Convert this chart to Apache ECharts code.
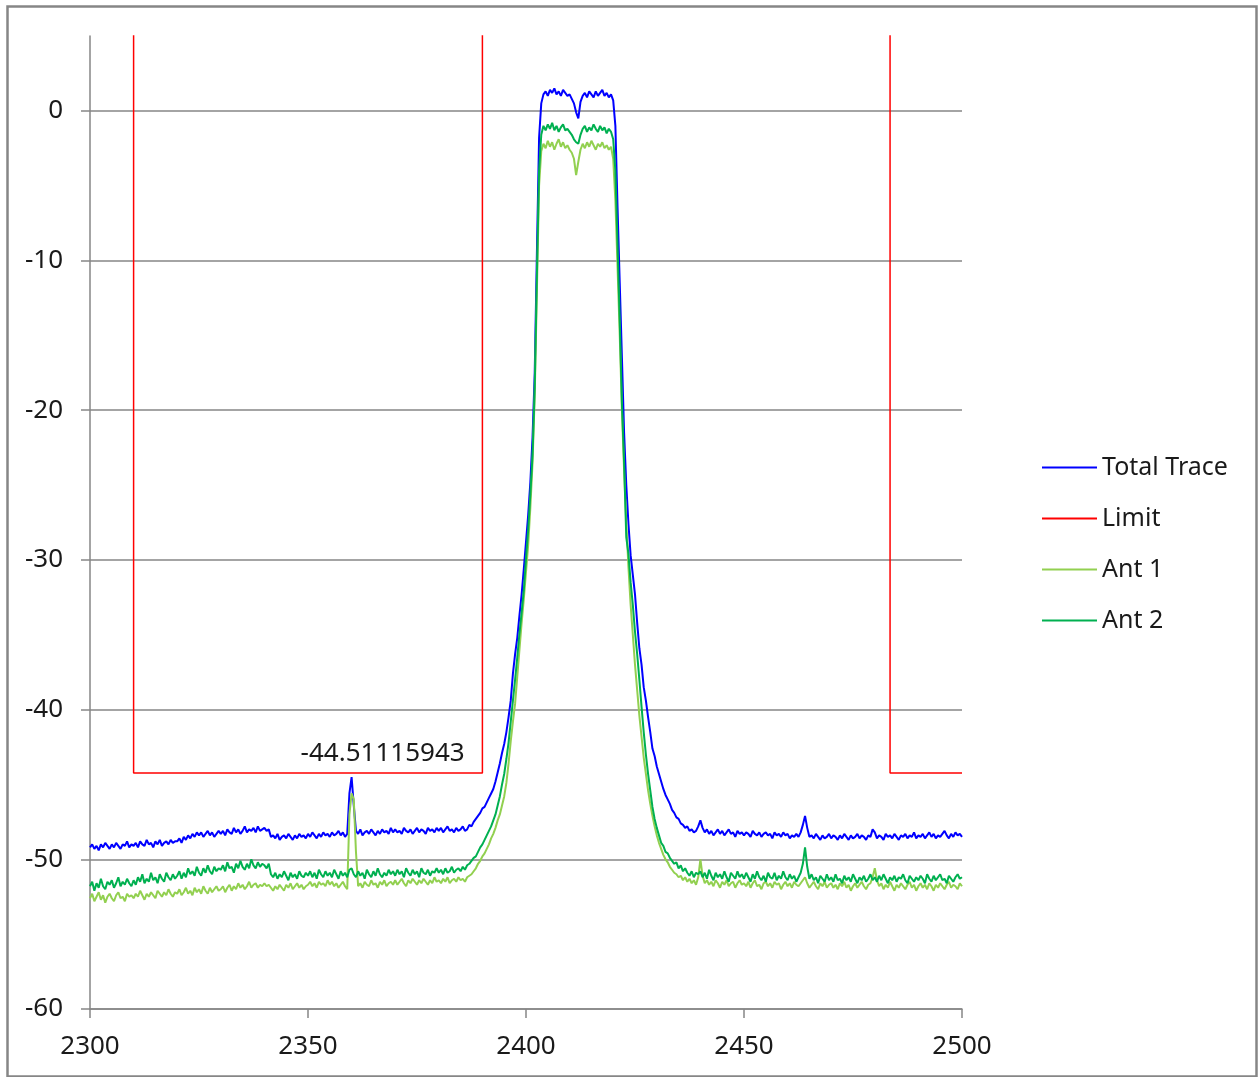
<!DOCTYPE html>
<html><head><meta charset="utf-8">
<script src="https://cdn.jsdelivr.net/npm/echarts@6/dist/echarts.min.js"></script>
<style>html,body{margin:0;padding:0;background:#fff}#c{width:1258px;height:1077px}</style>
</head><body><div id="c"></div>
<script>
// Sweep grid: first frequency and spacing of samples (MHz)
const START_FREQ = 2300;
const STEP = 0.5;

// Total Trace (dBm), one value every 0.5 MHz from 2300 to 2500
const totalTrace = [
-49.2,-49.0,-49.3,-49.1,-49.4,-49.0,-49.2,-48.9,-49.1,-49.3,-49.0,-49.2,-48.9,-49.1,-49.3,-49.0,-49.1,-48.8,-49.2,-49.0,
-49.1,-48.9,-49.2,-48.8,-49.0,-49.1,-48.7,-49.0,-48.9,-49.2,-48.8,-49.0,-48.7,-49.1,-48.9,-48.8,-49.0,-48.7,-48.9,-48.8,
-48.8,-48.6,-48.9,-48.5,-48.7,-48.4,-48.6,-48.3,-48.5,-48.2,-48.4,-48.2,-48.5,-48.3,-48.1,-48.4,-48.2,-48.5,-48.3,-48.1,
-48.3,-48.1,-48.4,-48.0,-48.2,-48.3,-47.9,-48.2,-48.0,-48.3,-48.1,-47.8,-48.2,-48.0,-48.1,-47.9,-48.2,-47.8,-48.1,-48.0,
-47.9,-48.1,-48.0,-48.5,-48.4,-48.6,-48.3,-48.7,-48.5,-48.4,-48.6,-48.3,-48.5,-48.7,-48.4,-48.6,-48.3,-48.5,-48.4,-48.6,
-48.3,-48.5,-48.2,-48.4,-48.6,-48.3,-48.5,-48.2,-48.4,-48.3,-48.5,-48.2,-48.4,-48.3,-48.1,-48.4,-48.2,-48.5,-48.3,-45.6,
-44.51115943,-46.4,-48.1,-48.3,-48.0,-48.4,-48.2,-48.1,-48.3,-48.0,-48.2,-48.4,-48.1,-48.3,-48.0,-48.2,-48.1,-48.3,-47.9,-48.2,
-48.0,-48.2,-48.1,-48.3,-47.9,-48.1,-48.2,-48.0,-48.3,-48.1,-47.9,-48.2,-48.0,-48.1,-48.3,-47.9,-48.1,-48.0,-48.2,-47.9,
-48.1,-47.9,-48.2,-48.0,-47.8,-48.1,-48.0,-48.2,-47.9,-48.1,-48.0,-47.8,-48.1,-48.0,-47.7,-47.8,-47.5,-47.3,-47.1,-46.9,
-46.6,-46.5,-46.2,-45.9,-45.6,-45.3,-44.8,-44.2,-43.6,-42.9,-42.3,-41.5,-40.5,-39.4,-37.6,-36.3,-35.2,-33.7,-32.3,-30.6,
-28.8,-27.0,-24.8,-21.8,-17.5,-9.5,-1.8,0.5,1.1,1.3,1.0,1.4,1.2,1.5,1.1,1.3,1.0,1.4,1.2,1.0,
1.1,0.8,0.5,-0.1,-0.5,0.6,1.0,1.2,0.9,1.3,1.1,0.9,1.3,1.0,1.2,1.4,1.0,1.2,0.9,1.1,
0.7,-1.0,-6.5,-11.5,-16.5,-21.5,-25.0,-27.6,-29.7,-31.0,-32.3,-34.2,-35.9,-37.0,-38.5,-39.4,-40.5,-41.5,-42.6,-43.1,
-43.8,-44.3,-44.8,-45.3,-45.7,-46.0,-46.3,-46.7,-46.9,-47.2,-47.3,-47.6,-47.7,-47.9,-47.8,-48.1,-48.0,-48.2,-48.1,-47.8,
-47.4,-47.9,-48.2,-48.0,-48.3,-48.1,-48.4,-48.2,-48.0,-48.3,-48.1,-48.4,-48.2,-48.0,-48.3,-48.2,-48.5,-48.1,-48.3,-48.2,
-48.4,-48.2,-48.3,-48.5,-48.1,-48.3,-48.4,-48.2,-48.5,-48.3,-48.2,-48.4,-48.3,-48.6,-48.2,-48.4,-48.3,-48.5,-48.2,-48.4,
-48.3,-48.6,-48.4,-48.5,-48.3,-48.5,-48.2,-47.7,-47.1,-47.9,-48.5,-48.4,-48.6,-48.3,-48.5,-48.7,-48.4,-48.6,-48.5,-48.3,
-48.6,-48.4,-48.5,-48.7,-48.4,-48.6,-48.3,-48.5,-48.7,-48.4,-48.6,-48.5,-48.3,-48.6,-48.4,-48.5,-48.7,-48.4,-48.5,-48.0,
-48.2,-48.6,-48.4,-48.5,-48.7,-48.3,-48.5,-48.4,-48.6,-48.3,-48.5,-48.7,-48.4,-48.5,-48.3,-48.6,-48.4,-48.5,-48.2,-48.6,
-48.4,-48.5,-48.3,-48.6,-48.4,-48.2,-48.5,-48.3,-48.6,-48.4,-48.5,-48.3,-48.1,-48.4,-48.6,-48.3,-48.5,-48.2,-48.4,-48.3,
-48.5
];

// Ant 1 (dBm)
const ant1 = [
-52.6,-52.3,-52.8,-52.5,-52.2,-52.7,-52.4,-52.9,-52.5,-52.3,-52.6,-52.8,-52.4,-52.2,-52.6,-52.5,-52.8,-52.3,-52.5,-52.4,
-52.6,-52.3,-52.5,-52.1,-52.4,-52.7,-52.3,-52.5,-52.2,-52.4,-52.6,-52.1,-52.3,-52.5,-52.2,-52.4,-52.0,-52.3,-52.5,-52.2,
-52.3,-52.0,-52.4,-52.2,-51.9,-52.3,-52.1,-52.4,-51.9,-52.2,-52.0,-52.3,-51.8,-52.1,-52.3,-51.9,-52.2,-52.0,-51.8,-52.1,
-52.0,-51.8,-52.2,-51.9,-51.7,-52.1,-51.8,-52.0,-51.6,-51.9,-51.7,-52.0,-51.8,-51.5,-51.9,-51.7,-51.6,-51.9,-51.7,-51.8,
-51.6,-51.8,-51.7,-51.9,-52.1,-51.8,-52.0,-51.7,-51.9,-52.1,-51.7,-51.9,-51.6,-52.0,-51.8,-51.6,-51.9,-51.7,-52.0,-51.8,
-51.7,-51.5,-51.8,-51.6,-51.9,-51.5,-51.7,-51.6,-51.8,-51.4,-51.7,-51.5,-51.8,-51.6,-51.9,-51.7,-51.5,-51.8,-52.0,-47.0,
-45.6,-46.0,-49.5,-51.8,-51.6,-51.9,-51.5,-51.7,-51.8,-51.4,-51.7,-51.6,-51.9,-51.5,-51.7,-51.4,-51.8,-51.6,-51.5,-51.7,
-51.4,-51.7,-51.5,-51.3,-51.6,-51.8,-51.4,-51.6,-51.3,-51.5,-51.7,-51.4,-51.6,-51.3,-51.5,-51.7,-51.4,-51.6,-51.2,-51.5,
-51.4,-51.6,-51.3,-51.5,-51.2,-51.6,-51.4,-51.3,-51.5,-51.2,-51.4,-51.3,-51.5,-51.2,-51.1,-51.0,-50.8,-50.6,-50.3,-50.1,
-49.8,-49.6,-49.3,-49.0,-48.6,-48.3,-47.9,-47.4,-47.0,-46.4,-45.8,-44.9,-43.6,-42.1,-40.8,-39.6,-37.8,-36.0,-34.2,-32.6,
-30.8,-29.0,-26.5,-23.5,-19.0,-12.0,-5.0,-2.7,-2.2,-2.5,-2.0,-2.4,-2.1,-2.6,-2.2,-1.9,-2.4,-2.1,-2.5,-2.3,
-2.6,-2.8,-3.2,-4.3,-3.4,-2.6,-2.2,-2.5,-2.1,-2.4,-2.0,-2.3,-2.6,-2.2,-2.4,-2.1,-2.5,-2.3,-2.6,-2.4,
-3.2,-6.0,-10.5,-15.0,-20.0,-24.0,-27.5,-30.5,-33.0,-35.0,-37.0,-38.7,-40.4,-41.8,-43.2,-44.3,-45.4,-46.3,-47.1,-47.8,
-48.4,-48.9,-49.3,-49.7,-50.0,-50.2,-50.5,-50.7,-50.9,-51.0,-51.2,-51.1,-51.4,-51.2,-51.5,-51.3,-51.6,-51.4,-51.7,-51.2,
-50.0,-51.1,-51.6,-51.4,-51.7,-51.5,-51.8,-51.4,-51.6,-51.9,-51.5,-51.7,-51.4,-51.8,-51.6,-51.5,-51.9,-51.6,-51.4,-51.7,
-51.6,-51.8,-51.5,-51.9,-51.6,-51.4,-51.8,-51.7,-52.0,-51.6,-51.5,-51.8,-51.6,-51.9,-51.5,-51.7,-51.6,-52.0,-51.7,-51.5,
-51.8,-51.6,-51.9,-51.5,-51.7,-51.8,-51.6,-51.4,-51.2,-51.6,-51.9,-51.7,-51.5,-51.8,-52.0,-51.6,-51.8,-51.5,-51.9,-51.7,
-51.6,-51.9,-51.7,-52.0,-51.6,-51.8,-51.5,-51.9,-51.7,-52.1,-51.8,-51.6,-51.9,-51.7,-51.5,-51.8,-52.0,-51.7,-51.6,-51.2,
-50.6,-51.4,-51.8,-51.6,-52.0,-51.7,-51.9,-51.5,-51.8,-52.1,-51.7,-51.9,-51.6,-51.8,-52.0,-51.7,-51.5,-51.9,-51.7,-52.1,
-51.8,-51.6,-51.9,-51.7,-52.0,-51.6,-51.8,-52.1,-51.7,-51.9,-51.6,-51.8,-52.0,-51.7,-51.5,-51.9,-51.7,-51.8,-52.0,-51.6,
-51.8
];

// Ant 2 (dBm)
const ant2 = [
-51.8,-51.5,-52.1,-51.6,-51.9,-51.3,-51.8,-52.0,-51.5,-51.7,-51.4,-51.9,-51.6,-51.2,-51.8,-51.5,-51.7,-51.3,-51.6,-51.8,
-51.4,-51.7,-51.2,-51.5,-51.0,-51.6,-51.3,-51.5,-50.9,-51.4,-51.2,-51.6,-51.0,-51.3,-51.5,-50.9,-51.2,-51.4,-51.0,-51.3,
-51.1,-50.8,-51.3,-50.9,-51.2,-50.6,-51.0,-50.8,-51.1,-50.5,-50.9,-51.1,-50.6,-50.9,-50.4,-50.8,-51.0,-50.5,-50.8,-50.6,
-50.7,-50.4,-50.8,-50.2,-50.6,-50.5,-50.9,-50.3,-50.6,-50.1,-50.5,-50.7,-50.3,-50.6,-50.0,-50.4,-50.6,-50.2,-50.5,-50.3,
-50.4,-50.6,-50.3,-51.0,-51.2,-50.9,-51.3,-51.0,-51.2,-50.8,-51.1,-51.4,-50.9,-51.2,-51.0,-51.3,-50.8,-51.1,-51.2,-50.9,
-51.1,-50.8,-51.2,-50.9,-51.3,-50.7,-51.0,-51.2,-50.8,-51.1,-50.9,-51.2,-50.7,-51.0,-51.3,-50.8,-51.1,-50.9,-51.2,-50.7,
-50.6,-51.0,-51.2,-50.8,-51.1,-50.9,-51.3,-50.7,-51.0,-51.2,-50.8,-51.1,-50.6,-51.0,-51.2,-50.9,-51.1,-50.7,-51.0,-50.8,
-51.1,-50.7,-51.0,-50.8,-51.2,-50.6,-50.9,-51.1,-50.7,-51.0,-50.8,-51.2,-50.6,-50.9,-51.0,-50.7,-51.1,-50.8,-50.9,-50.6,
-50.9,-50.7,-51.0,-50.6,-50.9,-50.8,-50.5,-50.9,-50.7,-50.6,-50.8,-50.5,-50.7,-50.4,-50.3,-50.1,-49.9,-49.8,-49.5,-49.2,
-49.0,-48.7,-48.4,-48.1,-47.8,-47.4,-47.0,-46.4,-45.8,-45.0,-44.3,-43.3,-42.2,-40.8,-39.4,-38.0,-36.5,-34.9,-33.5,-32.0,
-29.9,-28.0,-25.6,-23.0,-18.5,-11.0,-4.0,-1.6,-1.0,-1.3,-0.9,-1.2,-0.8,-1.3,-1.0,-1.4,-1.1,-0.9,-1.3,-1.2,
-1.4,-1.6,-1.9,-2.1,-2.2,-1.6,-1.2,-1.0,-1.4,-1.1,-1.3,-0.9,-1.2,-1.4,-1.0,-1.3,-1.1,-1.5,-1.2,-1.4,
-1.9,-4.0,-9.0,-14.0,-19.5,-23.5,-28.5,-29.6,-31.5,-33.0,-34.8,-36.3,-38.0,-39.8,-41.5,-43.0,-44.3,-45.4,-46.5,-47.3,
-47.9,-48.4,-48.9,-49.1,-49.5,-49.6,-49.9,-50.1,-50.3,-50.2,-50.6,-50.4,-50.8,-50.6,-50.9,-51.1,-50.8,-51.2,-50.9,-51.0,
-50.8,-51.2,-50.9,-51.3,-50.7,-51.1,-51.4,-50.9,-51.2,-51.0,-51.3,-50.8,-51.2,-51.5,-50.9,-51.1,-51.3,-50.8,-51.2,-51.0,
-51.3,-50.9,-51.2,-51.5,-51.0,-51.3,-50.8,-51.2,-51.4,-51.1,-51.5,-50.9,-51.2,-51.3,-50.9,-51.4,-51.1,-51.3,-50.8,-51.2,
-51.4,-51.0,-51.3,-51.1,-51.5,-51.2,-50.9,-50.3,-49.2,-50.5,-51.3,-51.0,-51.4,-51.2,-51.6,-51.1,-51.3,-51.5,-51.0,-51.4,
-51.2,-51.5,-51.0,-51.4,-51.3,-51.6,-51.1,-51.4,-51.2,-51.5,-51.0,-51.3,-51.6,-51.2,-51.4,-51.1,-51.5,-51.3,-51.0,-51.4,
-51.2,-51.5,-51.1,-51.4,-51.0,-51.3,-51.6,-51.2,-51.4,-51.1,-51.5,-51.2,-51.3,-51.0,-51.4,-51.6,-51.1,-51.3,-51.5,-51.2,
-51.4,-51.1,-51.3,-51.6,-51.0,-51.3,-51.5,-51.1,-51.4,-51.2,-51.0,-51.4,-51.3,-51.6,-51.1,-51.3,-51.5,-51.2,-51.0,-51.3,
-51.2
];

// Limit mask: corner frequencies and levels ('-' breaks the line)
const limitFreq  = [2310, 2310, 2390, 2390, 2436, 2483.5, 2483.5, 2500];
const limitLevel = [30, -44.24, -44.24, 30, '-', 30, -44.24, -44.24];

// Annotated point on the Total Trace
const peakLabel = [[2360, -44.51115943]];

// Axis ticks
const xTicks = [2300, 2350, 2400, 2450, 2500];
const yTicks = [-60, -50, -40, -30, -20, -10, 0];

const seriesNames = ['Total Trace', 'Limit', 'Ant 1', 'Ant 2'];
const seriesColors = ['#0000FF', '#FF0000', '#92D050', '#00B050'];

const FONT = 'Noto Sans';
const AXIS_GRAY = '#868686';

const toPairs = arr => arr.map((v, i) => [START_FREQ + i * STEP, v]);
const limitPairs = limitFreq.map((f, i) => [f, limitLevel[i]]);

const chart = echarts.init(document.getElementById('c'), null, {renderer: 'canvas'});

const lineSeries = (name, data, color, extra) => Object.assign({
  name, type: 'line', data, symbol: 'none', showSymbol: false,
  lineStyle: {color, width: 2}, itemStyle: {color},
  animation: false, clip: true
}, extra || {});

chart.setOption({
  animation: false,
  backgroundColor: '#ffffff',
  textStyle: {fontFamily: FONT},
  graphic: [{
    type: 'rect', left: 5, top: 4, silent: true,
    shape: {x: 0, y: 0, width: 1249, height: 1070},
    style: {fill: 'none', stroke: AXIS_GRAY, lineWidth: 2.5}
  }],
  grid: {left: 90, right: 296, top: 36, bottom: 68, containLabel: false},
  legend: {
    orient: 'vertical', left: 1037, top: 450,
    itemWidth: 55, itemHeight: 2, itemGap: 26, icon: 'rect',
    data: seriesNames,
    textStyle: {fontFamily: FONT, fontSize: 25, color: '#1a1a1a'}
  },
  xAxis: {
    type: 'value', min: xTicks[0], max: xTicks[xTicks.length - 1], interval: 50,
    axisLine: {show: true, onZero: false, lineStyle: {color: AXIS_GRAY, width: 1.5}},
    axisTick: {show: true, length: 9, lineStyle: {color: AXIS_GRAY, width: 1.5}},
    axisLabel: {fontFamily: FONT, fontSize: 26, color: '#1a1a1a', margin: 25,
                formatter: v => String(v)},
    splitLine: {show: false}
  },
  yAxis: {
    type: 'value', min: -60, max: 5, interval: 10,
    axisLine: {show: true, onZero: false, lineStyle: {color: AXIS_GRAY, width: 1.5}},
    axisTick: {show: true, length: 9, customValues: yTicks, lineStyle: {color: AXIS_GRAY, width: 1.5}},
    axisLabel: {fontFamily: FONT, fontSize: 26, color: '#1a1a1a', margin: 27, customValues: yTicks,
                formatter: v => String(v)},
    splitLine: {show: true, lineStyle: {color: [AXIS_GRAY, AXIS_GRAY, AXIS_GRAY, AXIS_GRAY, AXIS_GRAY, AXIS_GRAY, AXIS_GRAY, 'rgba(0,0,0,0)'], width: 1.5}}
  },
  series: [
    lineSeries(seriesNames[0], toPairs(totalTrace), seriesColors[0], {
      markPoint: {
        silent: true, symbol: 'circle', symbolSize: 1,
        itemStyle: {color: 'rgba(0,0,0,0)'},
        label: {show: true, position: 'top', distance: 5, offset: [31, -5],
                fontFamily: FONT, fontSize: 26, color: '#1a1a1a',
                formatter: p => String(p.value)},
        data: peakLabel.map(([x, y]) => ({coord: [x, y], value: y}))
      }
    }),
    lineSeries(seriesNames[1], limitPairs, seriesColors[1], {connectNulls: false, lineStyle: {color: seriesColors[1], width: 1.5}}),
    lineSeries(seriesNames[2], toPairs(ant1), seriesColors[2]),
    lineSeries(seriesNames[3], toPairs(ant2), seriesColors[3])
  ]
});
</script>
</body></html>
